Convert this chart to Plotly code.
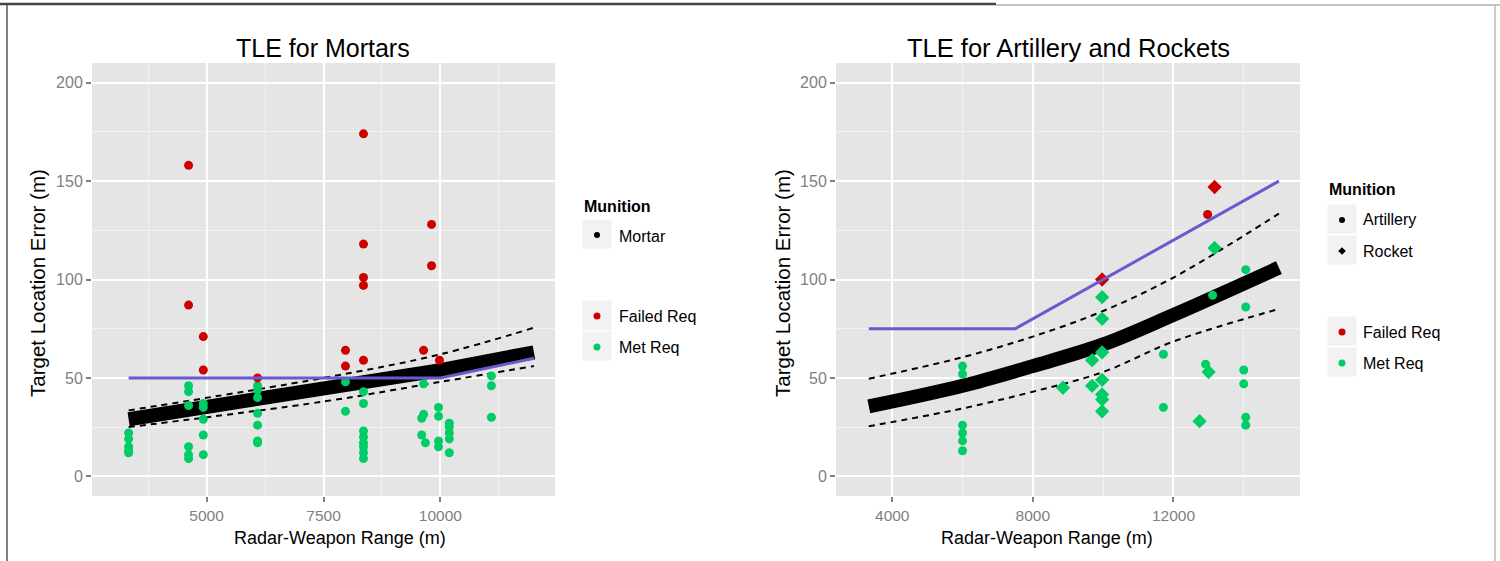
import plotly.graph_objects as go

# ---------------- Data: Mortars panel ----------------
mortar_failed_x = [4615, 4615, 4930, 4930, 6090, 7970, 7970, 8355, 8355, 8355, 8355, 8355, 9640, 9810, 9810, 9980]
mortar_failed_y = [158, 87, 71, 54, 50, 64, 56, 174, 118, 101, 97, 59, 64, 128, 107, 59]

mortar_met_x = [3333, 3333, 3333, 3333, 3333,
                4615, 4615, 4615, 4615, 4615, 4615,
                4930, 4930, 4930, 4930, 4930,
                6090, 6090, 6090, 6090, 6090, 6090, 6090,
                7970, 7970,
                8355, 8355, 8355, 8355, 8355, 8355, 8355, 8355,
                9640, 9640, 9600, 9600, 9680,
                9960, 9960, 9960, 9960,
                10190, 10190, 10190, 10190, 10190,
                11090, 11090, 11090]
mortar_met_y = [22, 19, 15, 13, 12,
                46, 43, 36, 15, 11, 9,
                37, 35, 29, 21, 11,
                46, 44, 40, 32, 26, 18, 17,
                48, 33,
                43, 37, 23, 20, 17, 15, 12, 9,
                47, 31.5, 29.5, 21, 17,
                35, 30.5, 18, 15,
                27, 25, 22, 19, 12,
                51, 46, 30]

mortar_fit_x = [3333, 5000, 6090, 7500, 10000, 12000]
mortar_fit_y = [29, 35, 39, 44.5, 54, 63]
mortar_upper_x = [3333, 7500, 10000, 12000]
mortar_upper_y = [33.5, 50, 62, 75.5]
mortar_lower_x = [3333, 7500, 10000, 12000]
mortar_lower_y = [25, 38, 48, 56]
mortar_req_x = [3333, 10000, 12000]
mortar_req_y = [50, 50, 60]

# ---------------- Data: Artillery & Rockets panel ----------------
art_failed_x = [12971]
art_failed_y = [133]
art_met_x = [6000, 6000, 6000, 6000, 6000, 6000, 11714, 11714, 12914, 13114,
             14057, 14057, 14000, 14000, 14057, 14057]
art_met_y = [56, 52, 26, 22, 18, 13, 62, 35, 57, 92,
             105, 86, 54, 47, 30, 26]

rocket_failed_x = [9971, 13170]
rocket_failed_y = [100, 147]
rocket_met_x = [8857, 9686, 9686, 9971, 9971, 9971, 9971, 9971, 9971, 9971, 12743, 13000, 13170]
rocket_met_y = [45, 59, 46, 91, 80, 63, 49, 41.6, 39, 33, 28, 53, 116]

ar_fit_x = [3333, 6000, 8000, 10000, 12000, 15000]
ar_fit_y = [35.5, 46, 56, 67, 82, 106]
ar_upper_x = [3333, 6000, 8000, 10000, 12000, 15000]
ar_upper_y = [49.6, 60.5, 71, 84, 101, 133.5]
ar_lower_x = [3333, 6000, 8000, 10000, 12000, 15000]
ar_lower_y = [25.4, 34.5, 43, 53, 68.5, 85]
ar_req_x = [3333, 7500, 15000]
ar_req_y = [75, 75, 150]

RED = "#CD0000"
GREEN = "#00CD66"
BLUE = "#6A5ACD"
FONT = "Liberation Sans, Arial, sans-serif"
W, H = 1500, 561


def px(x):
    return x / W


def py(y):
    return 1 - y / H


fig = go.Figure()

# Panel 1
fig.add_trace(go.Scatter(x=mortar_fit_x, y=mortar_fit_y, mode="lines", line=dict(color="black", width=14),
                         xaxis="x", yaxis="y", showlegend=False))
fig.add_trace(go.Scatter(x=mortar_upper_x, y=mortar_upper_y, mode="lines", line=dict(color="black", width=2, dash="6px,5px"),
                         line_shape="spline", xaxis="x", yaxis="y", showlegend=False))
fig.add_trace(go.Scatter(x=mortar_lower_x, y=mortar_lower_y, mode="lines", line=dict(color="black", width=2, dash="6px,5px"),
                         line_shape="spline", xaxis="x", yaxis="y", showlegend=False))
fig.add_trace(go.Scatter(x=mortar_met_x, y=mortar_met_y, mode="markers",
                         marker=dict(color=GREEN, size=9, symbol="circle"), xaxis="x", yaxis="y", showlegend=False))
fig.add_trace(go.Scatter(x=mortar_failed_x, y=mortar_failed_y, mode="markers",
                         marker=dict(color=RED, size=9, symbol="circle"), xaxis="x", yaxis="y", showlegend=False))
fig.add_trace(go.Scatter(x=mortar_req_x, y=mortar_req_y, mode="lines", line=dict(color=BLUE, width=3),
                         xaxis="x", yaxis="y", showlegend=False))

# Panel 2
fig.add_trace(go.Scatter(x=ar_fit_x, y=ar_fit_y, mode="lines", line=dict(color="black", width=14, shape="spline"),
                         xaxis="x2", yaxis="y2", showlegend=False))
fig.add_trace(go.Scatter(x=ar_upper_x, y=ar_upper_y, mode="lines", line=dict(color="black", width=2, dash="6px,5px", shape="spline"),
                         xaxis="x2", yaxis="y2", showlegend=False))
fig.add_trace(go.Scatter(x=ar_lower_x, y=ar_lower_y, mode="lines", line=dict(color="black", width=2, dash="6px,5px", shape="spline"),
                         xaxis="x2", yaxis="y2", showlegend=False))
fig.add_trace(go.Scatter(x=art_met_x, y=art_met_y, mode="markers",
                         marker=dict(color=GREEN, size=9, symbol="circle"), xaxis="x2", yaxis="y2", showlegend=False))
fig.add_trace(go.Scatter(x=rocket_met_x, y=rocket_met_y, mode="markers",
                         marker=dict(color=GREEN, size=11, symbol="diamond"), xaxis="x2", yaxis="y2", showlegend=False))
fig.add_trace(go.Scatter(x=art_failed_x, y=art_failed_y, mode="markers",
                         marker=dict(color=RED, size=9, symbol="circle"), xaxis="x2", yaxis="y2", showlegend=False))
fig.add_trace(go.Scatter(x=rocket_failed_x, y=rocket_failed_y, mode="markers",
                         marker=dict(color=RED, size=11, symbol="diamond"), xaxis="x2", yaxis="y2", showlegend=False))
fig.add_trace(go.Scatter(x=ar_req_x, y=ar_req_y, mode="lines", line=dict(color=BLUE, width=3),
                         xaxis="x2", yaxis="y2", showlegend=False))

axis_common = dict(
    showgrid=True, gridcolor="white", gridwidth=2, zeroline=False, showline=False,
    ticks="outside", ticklen=5, tickwidth=1.5, tickcolor="#7F7F7F", tickformat="d",
)
xfont = dict(family=FONT, size=15.5, color="#7F7F7F")
yfont = dict(family=FONT, size=16, color="#7F7F7F")
ydom = [py(496), py(63)]

fig.update_layout(
    width=W, height=H, margin=dict(l=0, r=0, t=0, b=0),
    paper_bgcolor="white", plot_bgcolor="#E5E5E5",
    xaxis=dict(domain=[px(92), px(555)], range=[2550, 12450], tickvals=[5000, 7500, 10000],
               minor=dict(showgrid=True, gridcolor="#F2F2F2", gridwidth=1, tickvals=[3750, 6250, 8750, 11250], ticks=""),
               anchor="y", tickfont=xfont, **axis_common),
    yaxis=dict(domain=ydom, range=[-10, 210], tickvals=[0, 50, 100, 150, 200],
               minor=dict(showgrid=True, gridcolor="#F2F2F2", gridwidth=1, tickvals=[25, 75, 125, 175], ticks=""),
               anchor="x", tickfont=yfont, **axis_common),
    xaxis2=dict(domain=[px(836), px(1300)], range=[2400, 15600], tickvals=[4000, 8000, 12000],
                minor=dict(showgrid=True, gridcolor="#F2F2F2", gridwidth=1, tickvals=[6000, 10000, 14000], ticks=""),
                anchor="y2", tickfont=xfont, **axis_common),
    yaxis2=dict(domain=ydom, range=[-10, 210], tickvals=[0, 50, 100, 150, 200],
                minor=dict(showgrid=True, gridcolor="#F2F2F2", gridwidth=1, tickvals=[25, 75, 125, 175], ticks=""),
                anchor="x2", tickfont=yfont, **axis_common),
)

ann = []
shapes = []


def text(x, y, s, size, xanchor="center", bold=False, angle=0, color="black"):
    ann.append(dict(x=px(x), y=py(y), xref="paper", yref="paper", text=("<b>%s</b>" % s) if bold else s,
                    showarrow=False, xanchor=xanchor, yanchor="middle", textangle=angle,
                    font=dict(family=FONT, size=size, color=color)))


# Titles and axis titles
text(323, 48, "TLE for Mortars", 25)
text(1068, 48, "TLE for Artillery and Rockets", 25.5)
text(340, 538, "Radar-Weapon Range (m)", 18)
text(1047, 538, "Radar-Weapon Range (m)", 18)
text(37, 283, "Target Location Error (m)", 20.5, angle=-90)
text(782, 283, "Target Location Error (m)", 20.5, angle=-90)


def key_box(x0, y0, x1, y1):
    shapes.append(dict(type="rect", xref="paper", yref="paper", x0=px(x0), x1=px(x1), y0=py(y1), y1=py(y0),
                       fillcolor="#F2F2F2", line=dict(color="white", width=1), layer="above"))


def dot(cx, cy, r, color):
    shapes.append(dict(type="circle", xref="paper", yref="paper", x0=px(cx - r), x1=px(cx + r), y0=py(cy + r), y1=py(cy - r),
                       fillcolor=color, line=dict(color=color, width=0), layer="above"))


def diamond(cx, cy, r, color):
    path = "M %f %f L %f %f L %f %f L %f %f Z" % (px(cx), py(cy - r), px(cx + r), py(cy), px(cx), py(cy + r), px(cx - r), py(cy))
    shapes.append(dict(type="path", xref="paper", yref="paper", path=path, fillcolor=color,
                       line=dict(color=color, width=0), layer="above"))


# Legend 1
text(582, 206, "Munition", 16, xanchor="left", bold=True)
key_box(582, 219, 612, 249)
dot(597, 235, 3, "black")
text(617, 236, "Mortar", 16, xanchor="left")
key_box(582, 300, 612, 331)
dot(597, 316, 3.5, RED)
text(617, 316, "Failed Req", 16, xanchor="left")
key_box(582, 331, 612, 361)
dot(597, 347, 3.5, GREEN)
text(617, 347, "Met Req", 16, xanchor="left")

# Legend 2
text(1327, 190, "Munition", 16, xanchor="left", bold=True)
key_box(1327, 204, 1357, 234)
dot(1342, 220, 3, "black")
text(1361, 220, "Artillery", 16, xanchor="left")
key_box(1327, 235, 1357, 265)
diamond(1342, 251, 3.8, "black")
text(1361, 251, "Rocket", 16, xanchor="left")
key_box(1327, 316, 1357, 346)
dot(1342, 332, 3.5, RED)
text(1361, 332, "Failed Req", 16, xanchor="left")
key_box(1327, 347, 1357, 377)
dot(1342, 363, 3.5, GREEN)
text(1361, 363, "Met Req", 16, xanchor="left")

# Page frame lines
shapes.append(dict(type="line", xref="paper", yref="paper", x0=0, x1=px(996), y0=py(4), y1=py(4),
                   line=dict(color="#444444", width=2.5)))
shapes.append(dict(type="line", xref="paper", yref="paper", x0=px(996), x1=1, y0=py(5), y1=py(5),
                   line=dict(color="#888888", width=1)))
shapes.append(dict(type="line", xref="paper", yref="paper", x0=px(7), x1=px(7), y0=py(5), y1=0,
                   line=dict(color="#555555", width=1.5)))
shapes.append(dict(type="line", xref="paper", yref="paper", x0=px(1495), x1=px(1495), y0=py(5), y1=0,
                   line=dict(color="#BBBBBB", width=1.5)))

fig.update_layout(annotations=ann, shapes=shapes)
fig.write_html("out.html", config={"displayModeBar": False},
               post_script="document.body.style.margin='0';document.body.style.overflow='hidden';")
